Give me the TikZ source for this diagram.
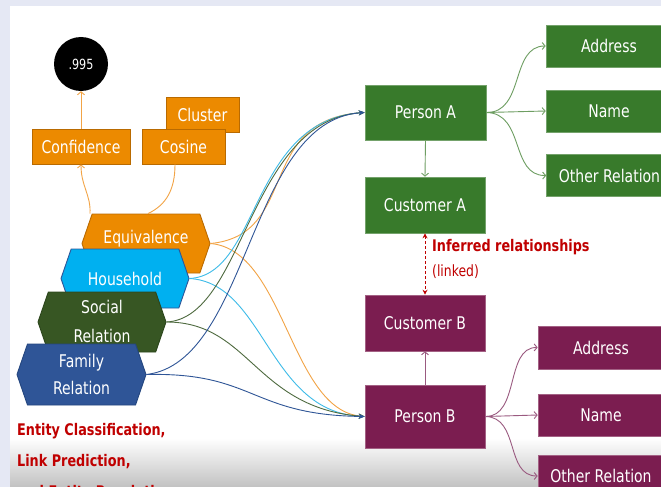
\documentclass[tikz,border=0pt]{standalone}
\usepackage{fontspec}
\setmainfont{DejaVu Sans}[FakeStretch=0.8]
\usetikzlibrary{shapes.symbols,arrows.meta}
\definecolor{bgl}{HTML}{E5E8F4}
\definecolor{orF}{HTML}{EC8A00}
\definecolor{orD}{HTML}{B96A00}
\definecolor{orL}{HTML}{F2A446}
\definecolor{cyF}{HTML}{00B0F0}
\definecolor{cyL}{HTML}{3DBBE8}
\definecolor{blF}{HTML}{2F5597}
\definecolor{blD}{HTML}{24467F}
\definecolor{soF}{HTML}{375623}
\definecolor{soD}{HTML}{2B451B}
\definecolor{soL}{HTML}{4F6B40}
\definecolor{grF}{HTML}{387A2B}
\definecolor{grL}{HTML}{6E9E62}
\definecolor{puF}{HTML}{7B1D50}
\definecolor{puL}{HTML}{9A5A80}
\definecolor{redC}{HTML}{C00000}
\tikzset{
  obox/.style={draw=orD, fill=orF, line width=0.8pt, text=white, inner sep=0pt, minimum height=35pt},
  gbox/.style={draw=grF!70!white, fill=grF, line width=0.6pt, text=white, inner sep=0pt},
  pbox/.style={draw=puF!70!white, fill=puF, line width=0.6pt, text=white, inner sep=0pt},
  hexa/.style={signal, signal to=east and west, signal pointer angle=142, line width=0.9pt,
    text=white, inner sep=0pt, minimum width=128pt, minimum height=59pt, align=center,
    font=\fontsize{17.5}{27}\selectfont},
  conn/.style={line width=0.9pt},
  tipc/.style={-{Stealth[length=6pt,width=5pt]}},
  tipo/.style={-{Straight Barb[length=3pt,width=7pt]}},
  redt/.style={text=redC, inner sep=0pt, anchor=west, font=\bfseries\fontsize{16}{18}\selectfont}
}
\begin{document}
\begin{tikzpicture}[x=1pt,y=-1pt,font=\fontsize{17.5}{20}\selectfont]
\useasboundingbox (0,0) rectangle (661,487);
\fill[bgl] (0,0) rectangle (661,487);
\fill[white] (10,6) rectangle (661,487);
\shade[top color=white,bottom color=black!24] (10,438) rectangle (661,487);

% left orange cluster
\node[circle, fill=black, minimum size=54pt, inner sep=0pt, text=white,
  font=\fontsize{14}{16}\selectfont] (conf995) at (81,64) {.995};
\node[obox, minimum width=98pt] (conf) at (81,146.5) {Confidence};
\node[obox, minimum width=73pt] (clus) at (202.5,114.5) {Cluster};
\node[obox, minimum width=83pt] (cos) at (183.5,146.5) {Cosine};

% hexagons
\node[hexa, draw=orD, fill=orF] (eq) at (146,243.5) {\raisebox{5pt}[\height][\depth]{Equivalence}};
\node[hexa, draw=blF, fill=cyF] (hh) at (125,278.5) {Household};
\node[hexa, draw=soD, fill=soF, minimum height=60pt] (so) at (102,322) {\raisebox{1.5pt}[\height][\depth]{Social}\\Relation};
\node[hexa, draw=blD, fill=blF, minimum height=61pt, minimum width=129pt] (fa) at (81.5,374.5) {Family\\Relation};

% right boxes
\node[gbox, minimum width=121pt, minimum height=55pt] (pa) at (425.5,112.5) {Person A};
\node[gbox, minimum width=120pt, minimum height=56pt] (ca) at (425,205) {Customer A};
\node[gbox, minimum width=126pt, minimum height=42pt] (adA) at (609,46) {Address};
\node[gbox, minimum width=126pt, minimum height=42pt] (nmA) at (609,111) {Name};
\node[gbox, minimum width=126pt, minimum height=42pt] (orA) at (609.5,175.5) {Other Relation};
\node[pbox, minimum width=120pt, minimum height=56pt] (cb) at (425,323) {Customer B};
\node[pbox, minimum width=120pt, minimum height=63pt] (pb) at (425,416.5) {Person B};
\node[pbox, minimum width=126pt, minimum height=43pt] (adB) at (601,347.5) {Address};
\node[pbox, minimum width=126pt, minimum height=42pt] (nmB) at (601,415) {Name};
\node[pbox, minimum width=126pt, minimum height=42pt] (orB) at (601,476) {Other Relation};

% texts
\node[redt] (ec) at (17,431) {Entity Classification,};
\node[redt] (lp) at (17,462) {Link Prediction,};
\node[redt] (er) at (17,493) {and Entity Resolution};
\node[redt] (inf) at (432,247) {Inferred relationships};
\node[redt, font=\fontsize{15.5}{18}\selectfont] (lnk) at (432,272) {(linked)};

% orange top connectors
\draw[conn, orL, tipo] ([xshift=-56pt]eq.north) .. controls (91,195) and (81,186) .. (conf.south);
\draw[conn, orL, tipo] (conf.north) -- (conf995.south);
\draw[conn, orL] ([xshift=2pt]eq.north) .. controls (166,205) and (175,190) .. ([xshift=-8.5pt]cos.south);

% converging curves to Person B
\draw[conn, orL, tipc] (eq.east) .. controls (285,250) and (290,410) .. (pb.west);
\draw[conn, cyL, tipc] (hh.east) .. controls (265,283) and (268,412) .. (pb.west);
\draw[conn, soL, tipc] (so.east) .. controls (250,322) and (255,408) .. (pb.west);
\draw[conn, blF, tipc] (fa.east) .. controls (255,372) and (250,415) .. (pb.west);
% converging curves to Person A
\draw[conn, orL, tipc] (eq.east) .. controls (300,235) and (255,120) .. (pa.west);
\draw[conn, cyL, tipc] (hh.east) .. controls (260,275) and (250,120) .. (pa.west);
\draw[conn, soL, tipc] (so.east) .. controls (245,318) and (248,120) .. (pa.west);
\draw[conn, blF, tipc] (fa.east) .. controls (250,362) and (248,120) .. (pa.west);

% person A fan
\draw[conn, grL, tipo] (pa.east) .. controls (525,113) and (510,46) .. (adA.west);
\draw[conn, grL, tipo] (pa.east) -- (nmA.west);
\draw[conn, grL, tipo] (pa.east) .. controls (525,113) and (510,176) .. (orA.west);
\draw[conn, grL, tipo] (pa.south) -- (ca.north);
% person B fan
\draw[conn, puL, tipo] (pb.east) .. controls (520,417) and (505,347) .. (adB.west);
\draw[conn, puL, tipo] (pb.east) -- (nmB.west);
\draw[conn, puL, tipo] (pb.east) .. controls (520,417) and (505,476) .. (orB.west);
\draw[conn, puL, tipo] (pb.north) -- (cb.south);

% inferred link
\draw[line width=1pt, redC, dash pattern=on 3pt off 2pt,
  {Stealth[length=5pt,width=5pt]}-{Stealth[length=5pt,width=5pt]}] (ca.south) -- (cb.north);
\end{tikzpicture}
\end{document}
